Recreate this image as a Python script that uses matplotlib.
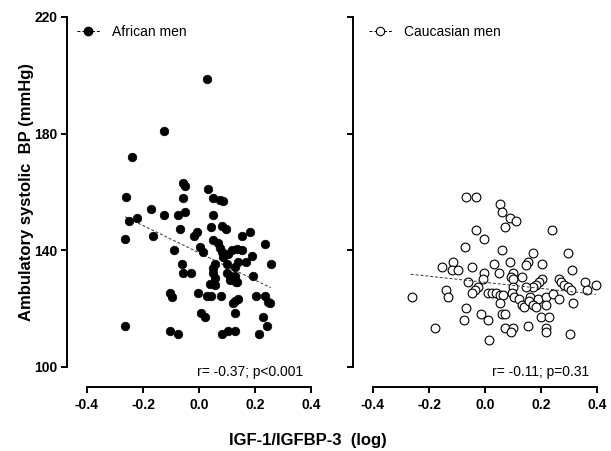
import matplotlib
matplotlib.use("Agg")
import matplotlib.pyplot as plt
from matplotlib.lines import Line2D

plt.rcParams['font.family'] = ['Liberation Sans', 'DejaVu Sans']

# ---------------- data ----------------
african_x = [0.029, -0.125, -0.238, -0.260,
             -0.173, -0.125, -0.221, -0.250, -0.264, -0.163, -0.263,
             0.033, -0.057, -0.049, -0.056, 0.051, 0.075, 0.087,
             -0.074, -0.050, 0.049, -0.068, 0.043, 0.081, 0.096,
             -0.008, -0.017, 0.152, 0.182, -0.088,
             0.051, 0.069, 0.075, 0.081, 0.004, 0.015, 0.117, 0.135, 0.155,
             0.105, 0.087, 0.236, 0.190, 0.167, 0.138, 0.129, 0.057, 0.051,
             0.099, 0.257, -0.062, -0.056, -0.029, 0.051, 0.057, 0.099,
             0.111, 0.129, 0.131, 0.194, 0.039, 0.057, 0.111, 0.135,
             -0.003, -0.104, -0.095, 0.027, 0.043, 0.079, 0.129, 0.138,
             0.123, 0.202, 0.236, 0.248, 0.254, 0.007, 0.021, 0.129,
             0.230, 0.242, -0.104, -0.074, 0.083, 0.105, 0.129, 0.215]
african_y = [198.7, 180.8, 172.0, 158.2,
             154.1, 152.1, 151.0, 150.0, 144.0, 145.0, 114.2,
             161.0, 163.0, 161.9, 158.0, 158.0, 157.1, 156.8,
             152.1, 153.0, 152.1, 147.3, 148.1, 148.4, 147.3,
             146.2, 145.0, 145.0, 146.2, 140.1,
             143.5, 142.4, 140.9, 139.5, 141.2, 139.3, 140.1, 140.5, 140.1,
             138.6, 137.8, 142.1, 138.2, 135.9, 135.9, 134.4, 135.2, 134.0,
             135.2, 135.2, 135.2, 132.1, 132.1, 132.1, 130.4, 132.1,
             131.3, 131.3, 129.2, 131.3, 128.4, 128.1, 129.8, 129.0,
             125.3, 125.3, 124.1, 124.4, 124.4, 124.4, 122.6, 123.3,
             121.8, 124.4, 124.4, 122.4, 121.8, 118.4, 117.2, 118.4,
             117.2, 114.2, 112.3, 111.2, 111.2, 112.3, 112.3, 111.2]

caucasian_x = [-0.067, -0.031, 0.052, 0.062, 0.088, 0.111, 0.072, -0.033, 0.238,
               -0.004, -0.070, 0.062, 0.170, 0.296, -0.116, 0.090, 0.153, 0.147,
               0.032, 0.203, -0.153, -0.118, -0.096, -0.047, 0.049, 0.099,
               -0.005, -0.007, 0.311, 0.094, 0.099, 0.133, -0.061, 0.203,
               0.194, 0.183, 0.170, 0.265, 0.272, 0.283, 0.295, 0.357, 0.396,
               0.366, 0.307, 0.099, 0.147, -0.138, -0.132, -0.262, -0.025,
               -0.037, -0.047, 0.010, 0.026, 0.040, 0.052, 0.066, 0.097,
               0.105, 0.123, 0.133, 0.138, 0.159, 0.156, 0.188, 0.218, 0.218,
               0.242, 0.263, 0.313, 0.054, 0.170, 0.183, -0.069, -0.016,
               0.060, 0.072, 0.200, 0.230, -0.076, 0.010, 0.153, 0.070,
               0.099, 0.094, 0.218, 0.218, -0.180, 0.305, 0.013]
caucasian_y = [158.2, 158.2, 155.9, 153.0, 151.0, 150.0, 148.1, 147.0, 147.0,
               144.0, 141.0, 140.1, 139.2, 139.2, 136.1, 136.1, 136.1, 135.0,
               135.2, 135.2, 134.2, 133.3, 133.3, 134.2, 132.1, 132.1,
               132.1, 130.1, 133.3, 131.0, 130.1, 131.0, 129.2, 130.1,
               129.0, 128.1, 127.5, 130.1, 129.0, 128.1, 127.3, 129.0, 128.1,
               126.4, 126.4, 127.3, 127.3, 126.4, 124.1, 124.1, 127.3,
               126.4, 125.3, 125.3, 125.3, 125.3, 124.7, 124.7, 125.3,
               124.1, 123.3, 121.3, 120.5, 124.1, 122.6, 123.3, 124.1, 121.3,
               125.0, 123.3, 122.0, 122.0, 121.3, 120.7, 120.3, 118.2,
               118.2, 118.2, 117.2, 117.2, 116.1, 116.1, 114.2, 113.3,
               113.3, 112.1, 113.3, 112.1, 113.3, 111.3, 109.3]

african_fit_x = [-0.264, 0.256]
african_fit_y = [151.5, 127.2]
caucasian_fit_x = [-0.265, 0.396]
caucasian_fit_y = [131.8, 124.9]

x_ticks = [-0.4, -0.2, 0.0, 0.2, 0.4]
x_ticklabels = ['-0.4', '-0.2', '0.0', '0.2', '0.4']
y_ticks = [100, 140, 180, 220]
y_ticklabels = ['100', '140', '180', '220']

labels = ['African men', 'Caucasian men']
stats = ['r= -0.37; p<0.001', 'r= -0.11; p=0.31']
xlabel = 'IGF-1/IGFBP-3  (log)'
ylabel = 'Ambulatory systolic  BP (mmHg)'

# ---------------- figure ----------------
W, H = 611, 451
fig = plt.figure(figsize=(W / 100, H / 100), dpi=100)

def fx(px):
    return px / W

def fy(py):
    return 1 - py / H

ax_top, ax_bot = 17, 387
axL = fig.add_axes([fx(67), fy(ax_bot), fx(248), (ax_bot - ax_top) / H])
axR = fig.add_axes([fx(353), fy(ax_bot), fx(248), (ax_bot - ax_top) / H])

xlim = (-0.4714, 0.4143)
ylim = (93.14, 220.0)

for ax in (axL, axR):
    ax.set_xlim(*xlim)
    ax.set_ylim(*ylim)
    for s in ('top', 'right'):
        ax.spines[s].set_visible(False)
    ax.spines['left'].set_bounds(100, 220)
    ax.spines['bottom'].set_bounds(-0.4, 0.4)
    ax.spines['left'].set_linewidth(1.4)
    ax.spines['bottom'].set_linewidth(1.4)
    ax.set_xticks(x_ticks)
    ax.set_xticklabels(x_ticklabels, fontsize=10, fontweight='bold')
    ax.set_yticks(y_ticks)
    ax.tick_params(axis='both', direction='out', length=4, width=1.4, color='black')
    ax.tick_params(axis='x', pad=4)
    ax.tick_params(axis='y', pad=3)
    ax.patch.set_alpha(0)

axL.set_yticklabels(y_ticklabels, fontsize=10, fontweight='bold')
axR.set_yticklabels([])

# scatter
axL.scatter(african_x, african_y, s=38, color='black', edgecolors='black',
            linewidths=0.5, zorder=3, clip_on=False)
axR.scatter(caucasian_x, caucasian_y, s=40, facecolors='white', edgecolors='black',
            linewidths=0.8, zorder=3, clip_on=False)

# fit lines
axL.plot(african_fit_x, african_fit_y, ls=(0, (3, 2)), color='#333333', lw=0.7, zorder=2)
axR.plot(caucasian_fit_x, caucasian_fit_y, ls=(0, (3, 2)), color='#333333', lw=0.7, zorder=4)

# legends
hL = Line2D([], [], ls=(0, (3, 2)), lw=0.7, color='black', marker='o', markersize=6,
            markerfacecolor='black', markeredgecolor='black')
hR = Line2D([], [], ls=(0, (3, 2)), lw=0.7, color='black', marker='o', markersize=6,
            markerfacecolor='white', markeredgecolor='black', markeredgewidth=0.8)
axL.legend([hL], [labels[0]], loc='center left', frameon=False, fontsize=10,
           bbox_to_anchor=(fx(77), fy(32)), bbox_transform=fig.transFigure,
           borderpad=0, borderaxespad=0, handlelength=1.65, handletextpad=0.85)
axR.legend([hR], [labels[1]], loc='center left', frameon=False, fontsize=10,
           bbox_to_anchor=(fx(369), fy(32)), bbox_transform=fig.transFigure,
           borderpad=0, borderaxespad=0, handlelength=1.65, handletextpad=0.85)

# stats text
axL.text(0.371, 98.3, stats[0], ha='right', va='center', fontsize=10)
axR.text(0.372, 98.3, stats[1], ha='right', va='center', fontsize=10)

# axis labels
fig.text(fx(308), fy(440), xlabel, ha='center', va='center', fontsize=12, fontweight='bold')
fig.text(fx(27), fy(192), ylabel, ha='center', va='center', rotation=90,
         fontsize=12, fontweight='bold')

fig.savefig('out.png', dpi=100)
